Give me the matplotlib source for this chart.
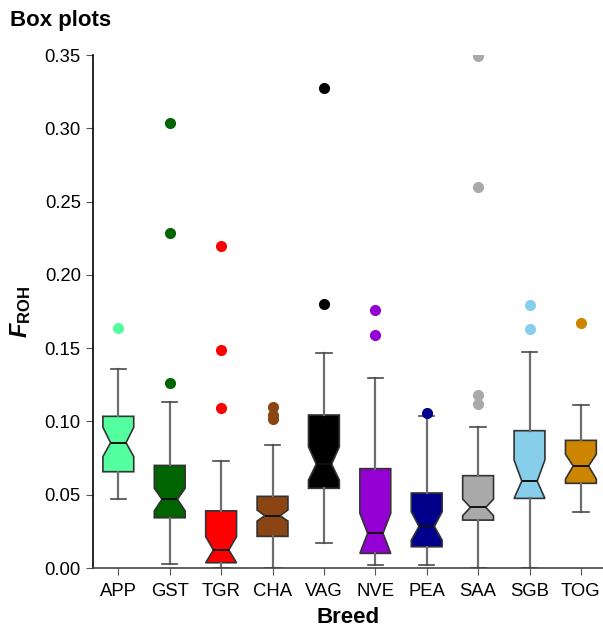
import matplotlib
matplotlib.use('Agg')
import matplotlib.pyplot as plt

plt.rcParams['font.family'] = ['Liberation Sans', 'DejaVu Sans']
plt.rcParams['mathtext.fontset'] = 'custom'
plt.rcParams['mathtext.it'] = 'Liberation Sans:italic:bold'
plt.rcParams['mathtext.bf'] = 'Liberation Sans:bold'
plt.rcParams['mathtext.rm'] = 'Liberation Sans'

# Datos
razas = ['APP', 'GST', 'TGR', 'CHA', 'VAG', 'NVE', 'PEA', 'SAA', 'SGB', 'TOG']
colores = ['#54FF9F', '#006400', '#FF0000', '#8B4513', '#000000',
           '#9400D3', '#00008B', '#A9A9A9', '#87CEEB', '#CD8500']
mediana = [0.0855, 0.0469, 0.0123, 0.0357, 0.0709, 0.0237, 0.0284, 0.0414, 0.0593, 0.0696]
q1 = [0.0657, 0.0343, 0.0036, 0.0216, 0.0544, 0.0100, 0.0145, 0.0327, 0.0475, 0.0578]
q3 = [0.1035, 0.0700, 0.0390, 0.0489, 0.1044, 0.0678, 0.0512, 0.0630, 0.0937, 0.0871]
ci_bajo = [0.0760, 0.0390, 0.0036, 0.0320, 0.0600, 0.0100, 0.0190, 0.0357, 0.0475, 0.0607]
ci_alto = [0.0960, 0.0544, 0.0214, 0.0396, 0.0827, 0.0373, 0.0384, 0.0470, 0.0737, 0.0776]
bigote_bajo = [0.0469, 0.0030, 0.0000, 0.0000, 0.0168, 0.0020, 0.0020, 0.0000, 0.0000, 0.0384]
bigote_alto = [0.1357, 0.1134, 0.0728, 0.0839, 0.1464, 0.1294, 0.1037, 0.0964, 0.1475, 0.1112]
atipicos = [
    [0.164],
    [0.126, 0.2283, 0.3038],
    [0.1094, 0.149, 0.2196],
    [0.1014, 0.1044, 0.110],
    [0.1798, 0.3272],
    [0.159, 0.176],
    [0.1055],
    [0.1117, 0.118, 0.260, 0.349],
    [0.163, 0.1796],
    [0.1669],
]

stats = []
for i in range(len(razas)):
    stats.append({
        'med': mediana[i], 'q1': q1[i], 'q3': q3[i],
        'cilo': ci_bajo[i], 'cihi': ci_alto[i],
        'whislo': bigote_bajo[i], 'whishi': bigote_alto[i],
        'fliers': atipicos[i], 'label': razas[i],
    })

fig = plt.figure(figsize=(6.03, 6.28), dpi=100)
ax = fig.add_axes([0.1536, 0.0955, 0.8464, 0.8169])

bp = ax.bxp(stats, positions=range(1, len(razas) + 1), widths=0.6,
            shownotches=True, patch_artist=True,
            boxprops=dict(edgecolor='#333333', linewidth=1.2),
            whiskerprops=dict(color='#6e6e6e', linewidth=1.6),
            capprops=dict(color='#4a4a4a', linewidth=1.2),
            medianprops=dict(color='#111111', linewidth=1.4))

for caja, color, atip in zip(bp['boxes'], colores, bp['fliers']):
    caja.set_facecolor(color)
    atip.set_marker('o')
    atip.set_markerfacecolor(color)
    atip.set_markeredgecolor(color)
    atip.set_markersize(7)

ax.set_xlim(0.5, 10.43)
ax.set_ylim(0, 0.35)
ax.set_yticks([0, 0.05, 0.10, 0.15, 0.20, 0.25, 0.30, 0.35])
ax.set_yticklabels(['0.00', '0.05', '0.10', '0.15', '0.20', '0.25', '0.30', '0.35'])
ax.set_xticks(range(1, len(razas) + 1))
ax.set_xticklabels(razas)
ax.tick_params(axis='both', labelsize=13.3, length=5, color='#555555', direction='out')
ax.tick_params(axis='x', pad=6)
ax.spines['top'].set_visible(False)
ax.spines['right'].set_visible(False)
ax.spines['left'].set_linewidth(1.2)
ax.spines['bottom'].set_linewidth(1.2)
ax.spines['bottom'].set_color('#444444')

ax.set_xlabel('Breed', fontsize=16, fontweight='bold', labelpad=5)
ax.set_ylabel(r'$\mathit{F}_{\mathbf{ROH}}$', fontsize=17, labelpad=8)
fig.text(0.017, 0.968, 'Box plots', fontsize=16, fontweight='bold', va='center', ha='left')

fig.savefig('out.png', dpi=100)
